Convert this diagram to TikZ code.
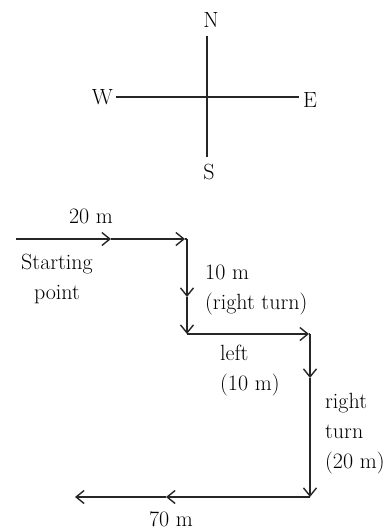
\documentclass[tikz,border=0pt]{standalone}
\usetikzlibrary{arrows.meta}
\begin{document}
\begin{tikzpicture}[x=1pt,y=-1pt,
  every node/.style={inner sep=0pt,font=\fontsize{22}{30}\selectfont},
  axis/.style={line width=1.3pt,draw=black!85},
  walk/.style={line width=1.4pt,draw=black!85,-{Straight Barb[length=8pt,width=13pt]}},
  seg/.style={line width=1.4pt,draw=black!85}]
\useasboundingbox (0,0) rectangle (391,531);
% compass
\coordinate (c) at (207,97);
\coordinate (nt) at (207,36);
\coordinate (sb) at (207,157);
\coordinate (wl) at (116,97);
\coordinate (er) at (299,97);
\draw[axis] (nt) -- (sb);
\draw[axis] (wl) -- (er);
\node (N) at (211,20) {N};
\node (S) at (209,172) {S};
\node[anchor=east] (W) at (113,97) {W};
\node[anchor=west] (E) at (303,100) {E};
% path
\coordinate (p0) at (16,239);
\coordinate (m1) at (111,239);
\coordinate (p1) at (187,239);
\coordinate (m2) at (187,297);
\coordinate (p2) at (187,334);
\coordinate (p3) at (310,334);
\coordinate (m4) at (310,378);
\coordinate (p4) at (310,497);
\coordinate (m5) at (166,497);
\coordinate (p5) at (75,497);
\draw[walk] (p0) -- (m1);
\draw[walk] (m1) -- ([xshift=-2pt]p1);
\draw[seg] ([xshift=-2pt]p1) -- (p1);
\draw[walk] (p1) -- (m2);
\draw[walk] (m2) -- (p2);
\draw[walk] (p2) -- ([xshift=-1pt]p3);
\draw[seg] ([xshift=-1pt]p3) -- (p3);
\draw[walk] (p3) -- (m4);
\draw[walk] (m4) -- (p4);
\draw[walk] (p4) -- (m5);
\draw[walk] (m5) -- (p5);
% labels
\node[anchor=base] (l20) at (91,223) {20 m};
\node[anchor=north,align=center] (start) at (57,254) {Starting\\point};
\node[anchor=north west,align=left] (l10) at (205,265) {10 m\\(right turn)};
\node[anchor=north west,align=left] (left) at (220,345) {left\\(10 m)};
\node[anchor=north west,align=left] (rt) at (325,393) {right\\turn\\(20 m)};
\node[anchor=base] (l70) at (171,526) {70 m};
\end{tikzpicture}
\end{document}
